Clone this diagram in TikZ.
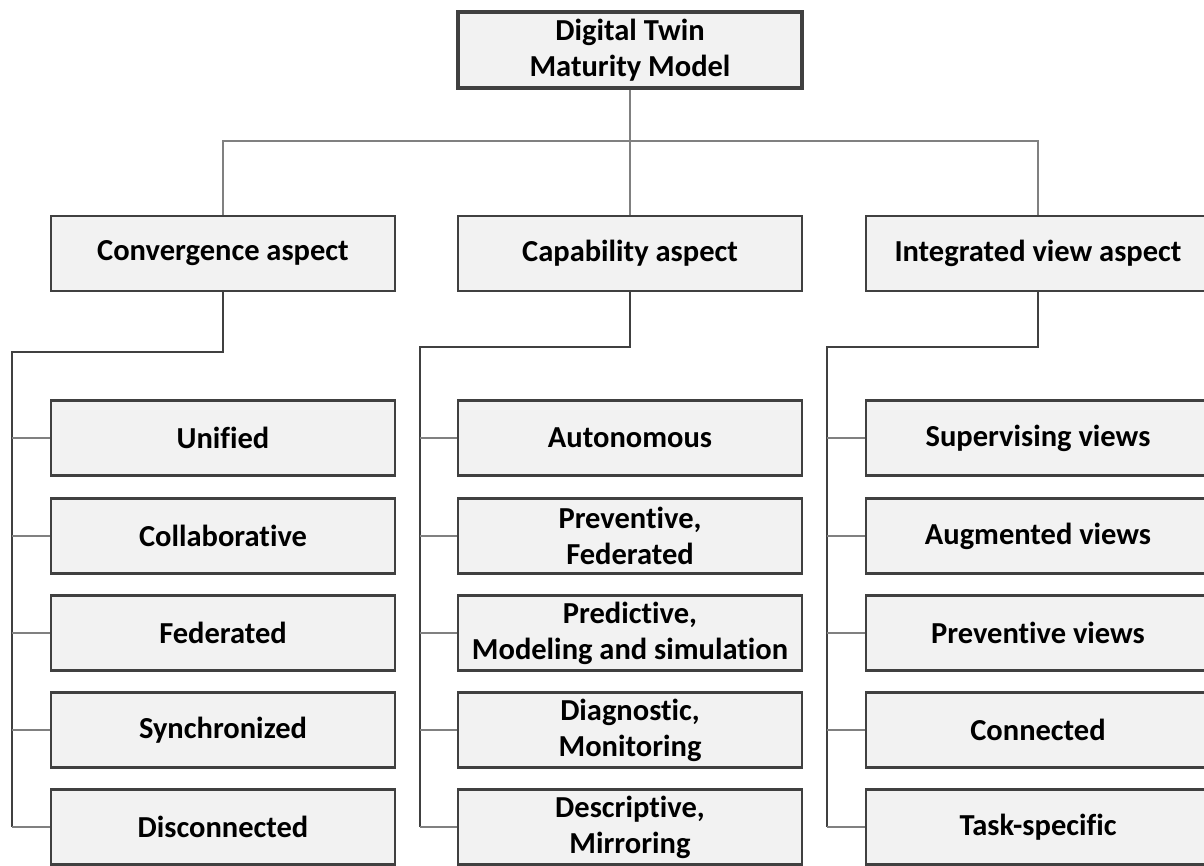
\documentclass[tikz,border=0pt]{standalone}
\usepackage{fontspec}
\setmainfont[Ligatures={NoCommon}]{Carlito}
\begin{document}
\begin{tikzpicture}[x=1pt,y=-1pt,
  box/.style={draw=black!75,fill=black!5,line width=2.2pt,minimum width=344pt,minimum height=75pt,inner sep=0pt,align=center,font=\fontsize{30.5}{36}\selectfont\bfseries},
  topbox/.style={box,line width=4.2pt,minimum width=344pt,minimum height=76pt},
  spine/.style={draw=black!75,line width=2pt},
  branch/.style={draw=black!50,line width=1.5pt}]
\useasboundingbox (0,0) rectangle (1204,865);
\clip (0,0) rectangle (1204,865);
\node[topbox] (top) at (630,50) {Digital Twin\\Maturity Model};
\node[box] (conv) at (223,253.5) {Convergence aspect};
\node[box] (cap) at (630,253.5) {Capability aspect};
\node[box] (integ) at (1038,253.5) {Integrated view aspect};
% children
\foreach \y/\n/\a/\b/\c in {438/1/Unified/Autonomous/Supervising views,
  536/2/Collaborative/{Preventive,\\Federated}/Augmented views,
  633/3/Federated/{Predictive,\\Modeling and simulation}/Preventive views,
  730/4/Synchronized/{Diagnostic,\\Monitoring}/Connected,
  827/5/Disconnected/{Descriptive,\\Mirroring}/Task-specific}{
  \node[box] (a\n) at (223,\y) {\a};
  \node[box] (b\n) at (630,\y) {\b};
  \node[box] (c\n) at (1038,\y) {\c};
}
% top connectors
\coordinate (hj) at (630,141);
\draw[branch] (top.south) -- (cap.north);
\draw[branch] (conv.north) |- (hj) -| (integ.north);
% spines
\coordinate (sa) at (12,352);
\coordinate (sb) at (420,347);
\coordinate (sc) at (827,347);
\draw[spine] (conv.south) |- (sa) -- (12,827);
\draw[spine] (cap.south) |- (sb) -- (420,827);
\draw[spine] (integ.south) |- (sc) -- (827,827);
\foreach \n in {1,...,5}{
  \draw[branch] (a\n.west) -- (a\n.west -| sa);
  \draw[branch] (b\n.west) -- (b\n.west -| sb);
  \draw[branch] (c\n.west) -- (c\n.west -| sc);
}
\end{tikzpicture}
\end{document}
